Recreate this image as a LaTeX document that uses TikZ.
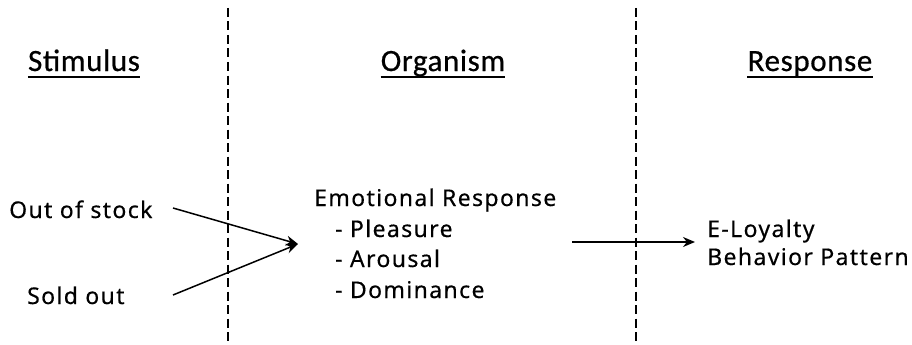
\documentclass[tikz,border=0pt]{standalone}
\usepackage{fontspec}
\setmainfont{Noto Sans}[LetterSpace=6,FakeBold=0.4]
\newfontfamily\headfont{Carlito}[FakeBold=0.6,LetterSpace=2]
\usetikzlibrary{arrows.meta}
\begin{document}
\begin{tikzpicture}[x=1pt,y=1pt,
  body/.style={inner sep=0pt,anchor=base west,font=\fontsize{23}{30}\selectfont},
  head/.style={inner sep=0pt,anchor=base,font=\headfont\fontsize{31}{34}\selectfont},
  divider/.style={line width=2.5pt,dash pattern=on 9pt off 4.5pt},
  conn/.style={line width=1.5pt,-{Stealth[length=12pt,width=10pt]}}]
\useasboundingbox (0,0) rectangle (912,-345);
% dividers
\coordinate (d1t) at (228,-8);
\coordinate (d1b) at (228,-345);
\coordinate (d2t) at (636,-8);
\coordinate (d2b) at (636,-345);
\draw[divider] (d1t) -- (d1b);
\draw[divider] (d2t) -- (d2b);
% headers
\node[head] (hs) at (84,-71) {Stimulus};
\node[head] (ho) at (443,-71) {Organism};
\node[head] (hr) at (810,-71) {Response};
\foreach \n in {hs,ho,hr}
  \draw[line width=1.8pt] ([yshift=-6pt]\n.base west) -- ([yshift=-6pt]\n.base east);
% stimulus
\node[body] (oos) at (9,-218) {Out of stock};
\node[body] (so) at (27,-304) {Sold out};
\coordinate (oosend) at (173,-208);
\coordinate (soend) at (173,-295);
\coordinate (conv) at (298,-244);
\draw[conn] (oosend) -- (conv);
\draw[conn] (soend) -- (conv);
% organism
\node[body] (er) at (314,-206) {Emotional Response};
\node[body] (pl) at (335,-237) {- Pleasure};
\node[body] (ar) at (335,-267) {- Arousal};
\node[body] (dm) at (335,-298) {- Dominance};
% response
\coordinate (rstart) at (572,-242);
\coordinate (rend) at (695,-242);
\draw[conn] (rstart) -- (rend);
\node[body] (el) at (707,-237) {E-Loyalty};
\node[body] (bp) at (707,-265) {Behavior Pattern};
\end{tikzpicture}
\end{document}
